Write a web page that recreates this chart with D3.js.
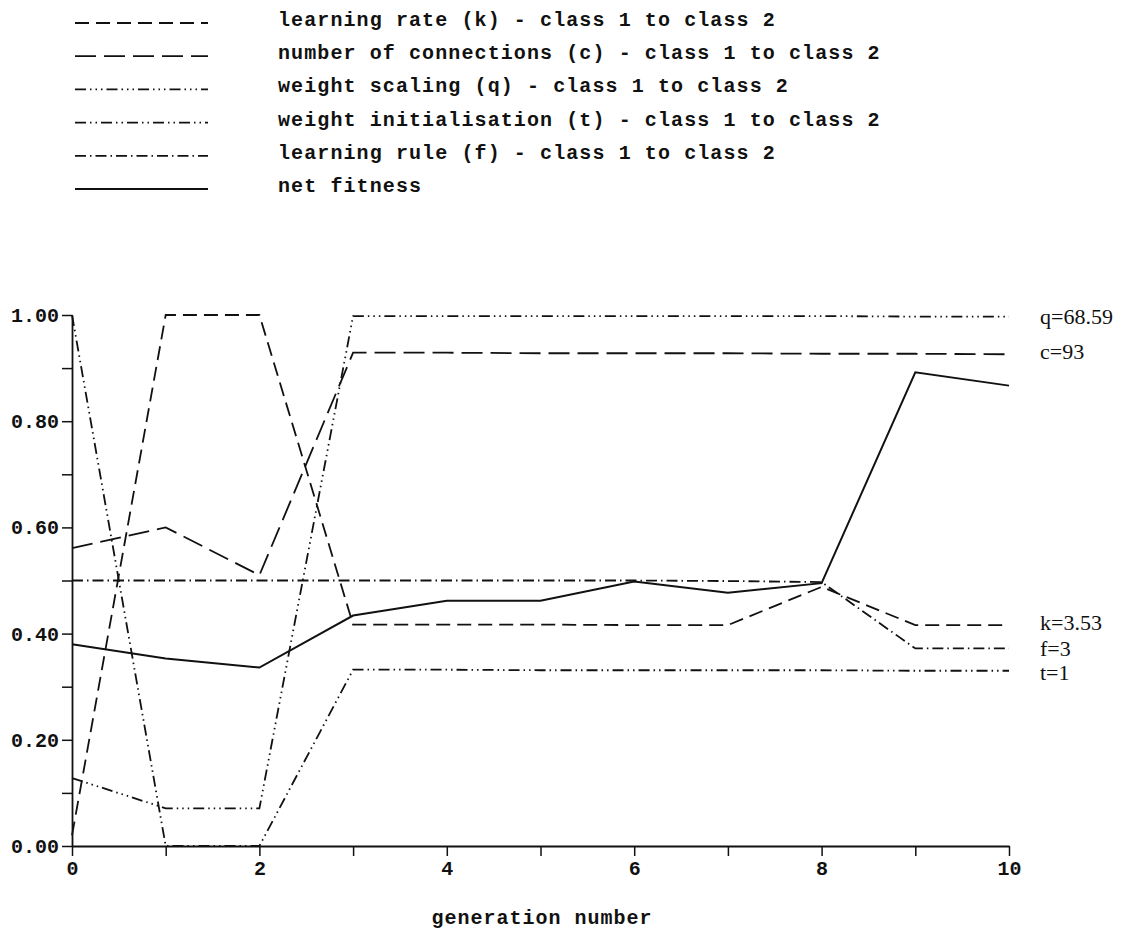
<!DOCTYPE html>
<html>
<head>
<meta charset="utf-8">
<script src="https://cdn.jsdelivr.net/npm/d3@7"></script>
<style>
  body { margin: 0; background: #fff; }
  .mono { font-family: "Liberation Mono", "DejaVu Sans Mono", monospace; font-weight: bold; }
  .serif { font-family: "Liberation Serif", "DejaVu Serif", serif; }
</style>
</head>
<body>
<div id="container"></div>
<script>
// generation number (x)
const generations = [0, 1, 2, 3, 4, 5, 6, 7, 8, 9, 10];

// normalised parameter values per generation
const learningRate  = [0.02, 1.00, 1.00, 0.417, 0.417, 0.417, 0.416, 0.416, 0.488, 0.416, 0.416];
const connections   = [0.561, 0.600, 0.510, 0.929, 0.929, 0.928, 0.928, 0.928, 0.927, 0.927, 0.926];
const weightScaling = [0.128, 0.071, 0.071, 0.998, 0.998, 0.998, 0.998, 0.998, 0.998, 0.997, 0.997];
const weightInit    = [1.00, 0.00, 0.00, 0.332, 0.332, 0.331, 0.331, 0.331, 0.331, 0.330, 0.330];
const learningRule  = [0.500, 0.500, 0.500, 0.500, 0.500, 0.500, 0.500, 0.499, 0.497, 0.372, 0.372];
const netFitness    = [0.380, 0.353, 0.336, 0.434, 0.462, 0.462, 0.498, 0.477, 0.495, 0.892, 0.867];

const legendLabels = [
  "learning rate (k) - class 1 to class 2",
  "number of connections (c) - class 1 to class 2",
  "weight scaling (q) - class 1 to class 2",
  "weight initialisation (t) - class 1 to class 2",
  "learning rule (f) - class 1 to class 2",
  "net fitness"
];
const endLabels = ["k=3.53", "c=93", "q=68.59", "t=1", "f=3", ""];
const yTickLabels = [0, 0.2, 0.4, 0.6, 0.8, 1.0];
const xTickLabels = [0, 2, 4, 6, 8, 10];
const xTitle = "generation number";

const seriesValues = [learningRate, connections, weightScaling, weightInit, learningRule, netFitness];
// dash patterns, same order as the series
const dashes = ["14,7", "21,8", "11,4,1.5,4,1.5,4,1.5,4", "11,4,1.5,4,1.5,4", "11,4,1.5,4", null];
// small vertical nudges for the end labels so they don't collide
const labelNudge = [-2, -3, 0, 2, 0, 0];

const W = 1131, H = 932;
const svg = d3.create("svg")
  .attr("width", W)
  .attr("height", H)
  .style("background-color", "#fff");

const x = d3.scaleLinear().domain([0, 10]).range([72, 1009]);
const y = d3.scaleLinear().domain([0, 1]).range([846, 315]);

// legend
const legend = svg.append("g");
legendLabels.forEach((lab, i) => {
  const ly = 23 + i * 33.2;
  legend.append("line")
    .attr("x1", 75).attr("x2", 208)
    .attr("y1", ly).attr("y2", ly)
    .attr("stroke", "#111")
    .attr("stroke-width", 1.8)
    .attr("stroke-dasharray", dashes[i]);
  legend.append("text")
    .attr("class", "mono")
    .attr("x", 278).attr("y", ly + 3)
    .attr("font-size", 20)
    .attr("letter-spacing", 1.1)
    .attr("fill", "#111")
    .text(lab);
});

// axes
const yAxis = d3.axisLeft(y)
  .tickValues(d3.range(0, 11).map(d => d / 10))
  .tickSize(10).tickSizeOuter(0).tickPadding(3)
  .tickFormat(d => yTickLabels.some(v => Math.abs(v - d) < 1e-6) ? d3.format(".2f")(d) : "");
const gy = svg.append("g").attr("transform", "translate(72,0)").call(yAxis);

const xAxis = d3.axisBottom(x)
  .tickValues(generations)
  .tickSize(10).tickSizeOuter(0).tickPadding(5)
  .tickFormat(d => xTickLabels.includes(d) ? d : "");
const gx = svg.append("g").attr("transform", "translate(0,846)").call(xAxis);

[gx, gy].forEach(g => {
  g.select(".domain").attr("stroke", "#111").attr("stroke-width", 1.8);
  g.selectAll(".tick line").attr("stroke", "#111").attr("stroke-width", 1.5);
  g.selectAll(".tick text")
    .attr("class", "mono")
    .attr("font-size", 20)
    .attr("fill", "#111");
});

svg.append("text")
  .attr("class", "mono")
  .attr("x", 542).attr("y", 924)
  .attr("text-anchor", "middle")
  .attr("font-size", 20)
  .attr("letter-spacing", 1)
  .attr("fill", "#111")
  .text(xTitle);

// series lines
const line = d3.line()
  .x((d, i) => x(generations[i]))
  .y(d => y(d));

seriesValues.forEach((vals, i) => {
  svg.append("path")
    .attr("d", line(vals))
    .attr("fill", "none")
    .attr("stroke", "#111")
    .attr("stroke-width", i === 5 ? 2 : 1.8)
    .attr("stroke-dasharray", dashes[i]);
  if (endLabels[i]) {
    svg.append("text")
      .attr("class", "serif")
      .attr("x", 1040)
      .attr("y", y(vals[vals.length - 1]) + labelNudge[i])
      .attr("dy", "0.33em")
      .attr("font-size", 22)
      .attr("fill", "#111")
      .text(endLabels[i]);
  }
});

document.getElementById("container").append(svg.node());
</script>
</body>
</html>
